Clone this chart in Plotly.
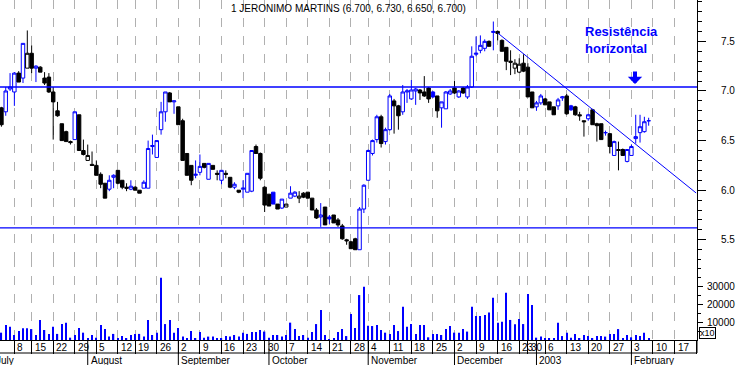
import pandas as pd
import plotly.graph_objects as go

# ---------------- data ----------------
first_day = "2002-07-03"
last_day = "2003-02-07"
closed_days = ["2002-07-12", "2002-08-15", "2002-11-01", "2002-12-24",
               "2002-12-25", "2002-12-26", "2003-01-01"]

opens = [
    # Jul
    6.83, 6.79, 7.02, 6.99, 7.18, 7.13, 7.23, 7.38, 7.23, 7.24, 7.13, 7.14, 6.99, 6.80, 6.67, 6.59, 6.49, 6.51, 6.76, 6.40,
    # Aug
    6.30, 6.26, 6.25, 6.16, 6.07, 6.01, 6.13, 6.20, 6.10, 6.03, 6.01, 6.03, 6.00, 6.02, 6.02, 6.44, 6.33, 6.61, 6.79, 6.98, 6.89,
    # Sep
    6.84, 6.70, 6.37, 6.25, 6.15, 6.18, 6.27, 6.11, 6.25, 6.17, 6.10, 6.17, 6.13, 6.03, 6.00, 6.01, 5.98, 5.99, 6.44, 6.37, 6.03,
    # Oct
    5.96, 5.98, 5.86, 5.82, 5.83, 5.92, 5.94, 5.92, 5.97, 5.98, 5.92, 5.80, 5.73, 5.83, 5.73, 5.75, 5.70, 5.64, 5.50, 5.48, 5.51, 5.40, 5.81,
    # Nov
    6.10, 6.37, 6.51, 6.74, 6.49, 6.61, 6.90, 6.85, 6.79, 6.99, 6.92, 7.00, 7.01, 6.99, 7.03, 6.99, 6.95, 6.83, 6.82, 6.97,
    # Dec
    7.03, 6.94, 7.03, 6.94, 7.04, 7.37, 7.41, 7.43, 7.50, 7.59, 7.60, 7.51, 7.44, 7.30, 7.23, 7.19, 7.28, 7.24, 6.99,
    # Jan
    6.84, 6.88, 6.92, 6.89, 6.84, 6.85, 6.93, 6.95, 6.85, 6.84, 6.76, 6.70, 6.72, 6.81, 6.67, 6.67, 6.58, 6.57, 6.35, 6.41, 6.41, 6.29,
    # Feb
    6.35, 6.52, 6.58, 6.59, 6.70,
]
highs = [
    6.84, 7.04, 7.18, 7.19, 7.20, 7.48, 7.61, 7.46, 7.26, 7.25, 7.19, 7.18, 7.04, 6.89, 6.67, 6.60, 6.50, 6.79, 6.76, 6.51,
    6.46, 6.39, 6.30, 6.18, 6.07, 6.15, 6.16, 6.20, 6.10, 6.07, 6.10, 6.04, 6.00, 6.10, 6.50, 6.56, 6.50, 6.89, 6.99, 6.99, 6.90,
    6.84, 6.72, 6.37, 6.25, 6.30, 6.36, 6.27, 6.27, 6.25, 6.20, 6.20, 6.20, 6.13, 6.08, 6.00, 6.10, 6.17, 6.40, 6.46, 6.38, 6.04,
    5.96, 5.98, 5.86, 5.91, 5.86, 6.04, 5.99, 5.99, 5.98, 5.98, 5.92, 5.82, 5.87, 5.83, 5.75, 5.75, 5.72, 5.66, 5.51, 5.49, 5.52, 5.83, 6.06,
    6.41, 6.51, 6.76, 6.76, 6.63, 6.97, 6.92, 6.86, 7.06, 7.02, 7.11, 7.03, 7.02, 7.15, 7.04, 7.00, 6.95, 6.89, 7.00, 7.02,
    7.10, 7.01, 7.04, 7.06, 7.45, 7.55, 7.56, 7.52, 7.51, 7.70, 7.61, 7.52, 7.44, 7.41, 7.32, 7.33, 7.37, 7.28, 6.99,
    6.90, 6.97, 6.93, 6.89, 6.84, 6.93, 6.95, 6.97, 6.86, 6.85, 6.79, 6.70, 6.77, 6.82, 6.68, 6.67, 6.60, 6.57, 6.50, 6.49, 6.42, 6.41,
    6.46, 6.76, 6.76, 6.74, 6.73,
]
lows = [
    6.64, 6.75, 7.00, 6.85, 7.09, 7.08, 7.23, 7.18, 7.09, 7.19, 7.06, 6.98, 6.51, 6.74, 6.50, 6.49, 6.46, 6.51, 6.40, 6.35,
    6.30, 6.25, 6.15, 6.02, 5.92, 5.99, 6.02, 6.06, 6.01, 5.99, 6.00, 6.00, 5.97, 6.02, 6.02, 6.36, 6.33, 6.56, 6.69, 6.89, 6.77,
    6.66, 6.30, 6.15, 6.05, 6.12, 6.15, 6.22, 6.11, 6.21, 6.10, 6.06, 6.12, 6.02, 6.01, 5.97, 5.92, 5.98, 5.98, 6.37, 6.10, 5.78,
    5.84, 5.86, 5.81, 5.81, 5.83, 5.92, 5.93, 5.87, 5.92, 5.92, 5.80, 5.71, 5.63, 5.65, 5.66, 5.67, 5.63, 5.50, 5.45, 5.41, 5.40, 5.40, 5.77,
    6.10, 6.35, 6.48, 6.43, 6.46, 6.60, 6.57, 6.61, 6.76, 6.88, 6.91, 6.86, 6.91, 6.94, 6.88, 6.93, 6.73, 6.63, 6.82, 6.96,
    6.97, 6.93, 6.97, 6.92, 7.03, 7.35, 7.38, 7.40, 7.45, 7.41, 7.51, 7.40, 7.21, 7.16, 7.17, 7.18, 7.19, 6.94, 6.83,
    6.80, 6.86, 6.86, 6.81, 6.76, 6.81, 6.90, 6.76, 6.80, 6.75, 6.70, 6.54, 6.70, 6.66, 6.49, 6.51, 6.55, 6.37, 6.35, 6.20, 6.35, 6.28,
    6.35, 6.47, 6.48, 6.58, 6.65,
]
closes = [
    6.66, 7.00, 7.04, 7.18, 7.09, 7.48, 7.38, 7.23, 7.25, 7.19, 7.08, 6.99, 6.89, 6.75, 6.50, 6.49, 6.48, 6.79, 6.40, 6.36,
    6.35, 6.25, 6.15, 6.06, 5.92, 6.10, 6.15, 6.07, 6.03, 6.02, 6.04, 6.00, 5.97, 6.08, 6.42, 6.45, 6.50, 6.79, 6.99, 6.89, 6.90,
    6.66, 6.30, 6.15, 6.10, 6.16, 6.24, 6.23, 6.27, 6.21, 6.16, 6.20, 6.16, 6.03, 6.06, 5.98, 6.02, 6.17, 6.40, 6.37, 6.12, 5.85,
    5.84, 5.86, 5.81, 5.91, 5.86, 5.97, 5.98, 5.94, 5.93, 5.92, 5.80, 5.72, 5.75, 5.65, 5.71, 5.67, 5.65, 5.51, 5.49, 5.41, 5.40, 5.81, 6.05,
    6.40, 6.50, 6.74, 6.47, 6.61, 6.95, 6.85, 6.75, 6.99, 7.00, 7.01, 7.02, 6.98, 6.95, 6.92, 6.94, 6.80, 6.89, 6.99, 7.00,
    6.98, 7.00, 6.98, 7.04, 7.35, 7.38, 7.46, 7.50, 7.45, 7.60, 7.58, 7.40, 7.30, 7.29, 7.28, 7.27, 7.20, 6.94, 6.83,
    6.88, 6.95, 6.86, 6.81, 6.76, 6.91, 6.94, 6.77, 6.81, 6.76, 6.75, 6.69, 6.76, 6.66, 6.65, 6.51, 6.58, 6.44, 6.49, 6.40, 6.35, 6.41,
    6.44, 6.54, 6.64, 6.69, 6.70,
]
volumes = [
    4100, 8400, 7400, 2800, 5000, 6500, 6500, 6100, 2800, 11200, 5600, 3400, 7400, 3400, 8900, 9700, 1300, 2800, 6700, 4100,
    600, 2800, 1300, 8400, 6100, 1900, 3400, 600, 2200, 600, 2800, 3400, 3400, 1900, 11200, 2800, 4100, 34800, 8900, 11200, 4100,
    6700, 1900, 600, 5000, 600, 4500, 1300, 1900, 1900, 900, 600, 2200, 1900, 2800, 1900, 4100, 3400, 4500, 4500, 5600, 4700,
    1300, 2800, 2800, 1900, 2800, 9700, 6100, 2200, 2800, 1300, 4500, 8900, 16800, 2800, 300, 600, 4500, 6100, 2200, 14500, 6700, 25100, 29800,
    8000, 7800, 8400, 5600, 4100, 3400, 8400, 5000, 18600, 7400, 8900, 3400, 8400, 8400, 1500, 3400, 3400, 2800, 6100, 7800,
    4100, 4100, 6100, 4700, 18600, 13400, 13400, 14000, 15300, 23600, 9700, 10200, 26400, 11200, 8800, 11700, 8900, 25700, 19600,
    1300, 1900, 900, 900, 600, 9700, 2200, 4100, 1300, 3400, 600, 2800, 2200, 600, 2200, 2200, 1900, 3400, 3400, 6100, 900, 2800,
    1500, 2800, 2200, 4100, 900,
]

levels = [7.04, 5.62]                       # horizontal support / resistance
trend_dates = ["2002-12-16", "2003-02-24"]  # descending trend line
trend_prices = [7.585, 5.972]

month_names = {7: "July", 8: "August", 9: "September", 10: "October",
               11: "November", 12: "December", 1: "2003", 2: "February"}
title_text = "1 JERONIMO MARTINS ({:.3f}, {:.3f}, {:.3f}, {:.3f})".format(
    opens[-1], highs[-1], lows[-1], closes[-1])

# ---------------- trading calendar ----------------
cal = pd.bdate_range("2002-07-01", "2003-02-28")
cal = cal[~cal.isin(pd.to_datetime(closed_days))]
pos = {d: i for i, d in enumerate(cal)}
cdates = cal[(cal >= pd.Timestamp(first_day)) & (cal <= pd.Timestamp(last_day))]
xs = [pos[d] for d in cdates]
assert len(xs) == len(opens) == len(highs) == len(lows) == len(closes) == len(volumes), (len(xs), len(opens))

X0, X1 = 1.67, 163.2
PLOT_W, PLOT_H = 697, 340
BLUE = "#0000FF"


def px(i):
    return (i - X0) / (X1 - X0)


mondays = [i for i, d in enumerate(cal) if d.weekday() == 0]
month_starts = [i for i, d in enumerate(cal) if i == 0 or cal[i - 1].month != d.month]

# candle colour: blue if close >= previous close, else black
blue_idx, black_idx = [], []
for k in range(len(closes)):
    if k > 0 and closes[k] >= closes[k - 1]:
        blue_idx.append(k)
    else:
        black_idx.append(k)


def sub(lst, idx):
    return [lst[k] for k in idx]


fig = go.Figure()
for idx, col in ((blue_idx, BLUE), (black_idx, "black")):
    fig.add_trace(go.Candlestick(
        x=sub(xs, idx), open=sub(opens, idx), high=sub(highs, idx),
        low=sub(lows, idx), close=sub(closes, idx),
        increasing=dict(line=dict(color=col, width=1), fillcolor="white"),
        decreasing=dict(line=dict(color=col, width=1), fillcolor=col),
        whiskerwidth=0, showlegend=False, hoverinfo="skip",
        xaxis="x", yaxis="y"))

fig.add_trace(go.Bar(x=xs, y=volumes, width=0.3,
                     marker=dict(color=BLUE, line=dict(width=0)),
                     xaxis="x", yaxis="y2", showlegend=False, hoverinfo="skip"))

fig.add_trace(go.Scatter(x=[pos[pd.Timestamp(d)] for d in trend_dates], y=trend_prices,
                         mode="lines", line=dict(color=BLUE, width=1),
                         xaxis="x", yaxis="y", showlegend=False, hoverinfo="skip"))

shapes = []
for lv in levels:
    shapes.append(dict(type="line", xref="paper", yref="y", x0=0, x1=1, y0=lv, y1=lv,
                       line=dict(color=BLUE, width=1.4)))
# date strip: row separator and month separators
shapes.append(dict(type="line", xref="paper", yref="paper", x0=0, x1=1,
                   y0=-13 / PLOT_H, y1=-13 / PLOT_H, line=dict(color="black", width=1)))
shapes.append(dict(type="line", xref="paper", yref="paper", x0=1, x1=1,
                   y0=0, y1=-13 / PLOT_H, line=dict(color="black", width=1)))
for m in month_starts:
    if X0 <= m <= X1:
        shapes.append(dict(type="line", xref="paper", yref="paper", x0=px(m), x1=px(m),
                           y0=0, y1=-26 / PLOT_H, line=dict(color="black", width=1)))

annotations = []
annotations.append(dict(text=title_text, xref="paper", yref="paper", x=0.5, y=1,
                        xanchor="center", yanchor="top", yshift=-1, showarrow=False,
                        font=dict(size=10, color="black")))
annotations.append(dict(text="<b>Resistência<br>horizontal</b>", xref="paper", yref="paper",
                        x=583 / PLOT_W, y=1 - 22 / PLOT_H, xanchor="left", yanchor="top",
                        align="left", showarrow=False, font=dict(size=13, color=BLUE)))
annotations.append(dict(text="", xref="paper", yref="paper", x=635 / PLOT_W, y=1 - 84 / PLOT_H,
                        ax=0, ay=-14, showarrow=True, arrowhead=1, arrowwidth=4,
                        arrowsize=0.6, arrowcolor=BLUE, standoff=0))
annotations.append(dict(text="x10", xref="paper", yref="paper", x=1, y=0, xanchor="left",
                        yanchor="bottom", xshift=2, yshift=1, showarrow=False,
                        bordercolor="black", borderwidth=1, borderpad=0,
                        font=dict(size=9, color="black")))
for m in mondays:
    # only the week labels whose start lies inside the visible date strip
    if X0 <= m and px(m) * PLOT_W + 12 <= PLOT_W:
        annotations.append(dict(text=str(cal[m].day), xref="paper", yref="paper", x=px(m), y=0,
                                xanchor="left", yanchor="middle", xshift=1, yshift=-7,
                                showarrow=False, font=dict(size=10, color="black")))
for m in month_starts:
    annotations.append(dict(text=month_names[cal[m].month], xref="paper", yref="paper",
                            x=px(m), y=0, xanchor="left", yanchor="middle", xshift=1,
                            yshift=-20, showarrow=False, font=dict(size=10, color="black")))

fig.update_layout(
    width=738, height=365, margin=dict(l=0, r=41, t=0, b=25),
    paper_bgcolor="white", plot_bgcolor="white", showlegend=False,
    boxgap=0.2, boxgroupgap=0,
    font=dict(family="Arial, Liberation Sans, sans-serif", size=10, color="black"),
    xaxis=dict(range=[X0, X1], anchor="y2", tickmode="array", tickvals=mondays,
               showticklabels=False, ticks="outside", ticklen=13, tickcolor="black",
               showgrid=True, gridcolor="#b0b0b0", griddash="dash", gridwidth=1,
               showline=True, linecolor="black", linewidth=1, zeroline=False,
               rangeslider=dict(visible=False)),
    yaxis=dict(domain=[82 / PLOT_H, 1], range=[5.3165, 7.917], side="right", anchor="x",
               tick0=5.5, dtick=0.5, tickformat=".1f", ticks="outside", ticklen=8,
               tickcolor="black",
               minor=dict(dtick=0.1, tick0=5.0, ticks="outside", ticklen=4,
                          tickcolor="black", showgrid=False),
               showline=True, linecolor="black", showgrid=False, zeroline=False,
               ticklabelstandoff=13),
    yaxis2=dict(domain=[0, 82 / PLOT_H], range=[0, 45810], side="right", anchor="x",
                tickmode="array", tickvals=[10000, 20000, 30000],
                ticktext=["10000", "20000", "30000"], ticks="outside", ticklen=5,
                tickcolor="black",
                minor=dict(tickmode="array", tickvals=[5000, 15000, 25000, 35000, 40000, 45000],
                           ticks="outside", ticklen=3, tickcolor="black", showgrid=False),
                showline=True, linecolor="black", showgrid=False, zeroline=False,
                ticklabelstandoff=2),
    shapes=shapes, annotations=annotations,
)

fig.write_html("out.html", config={"displayModeBar": False},
               post_script="document.body.style.margin='0';document.body.style.padding='0';")
